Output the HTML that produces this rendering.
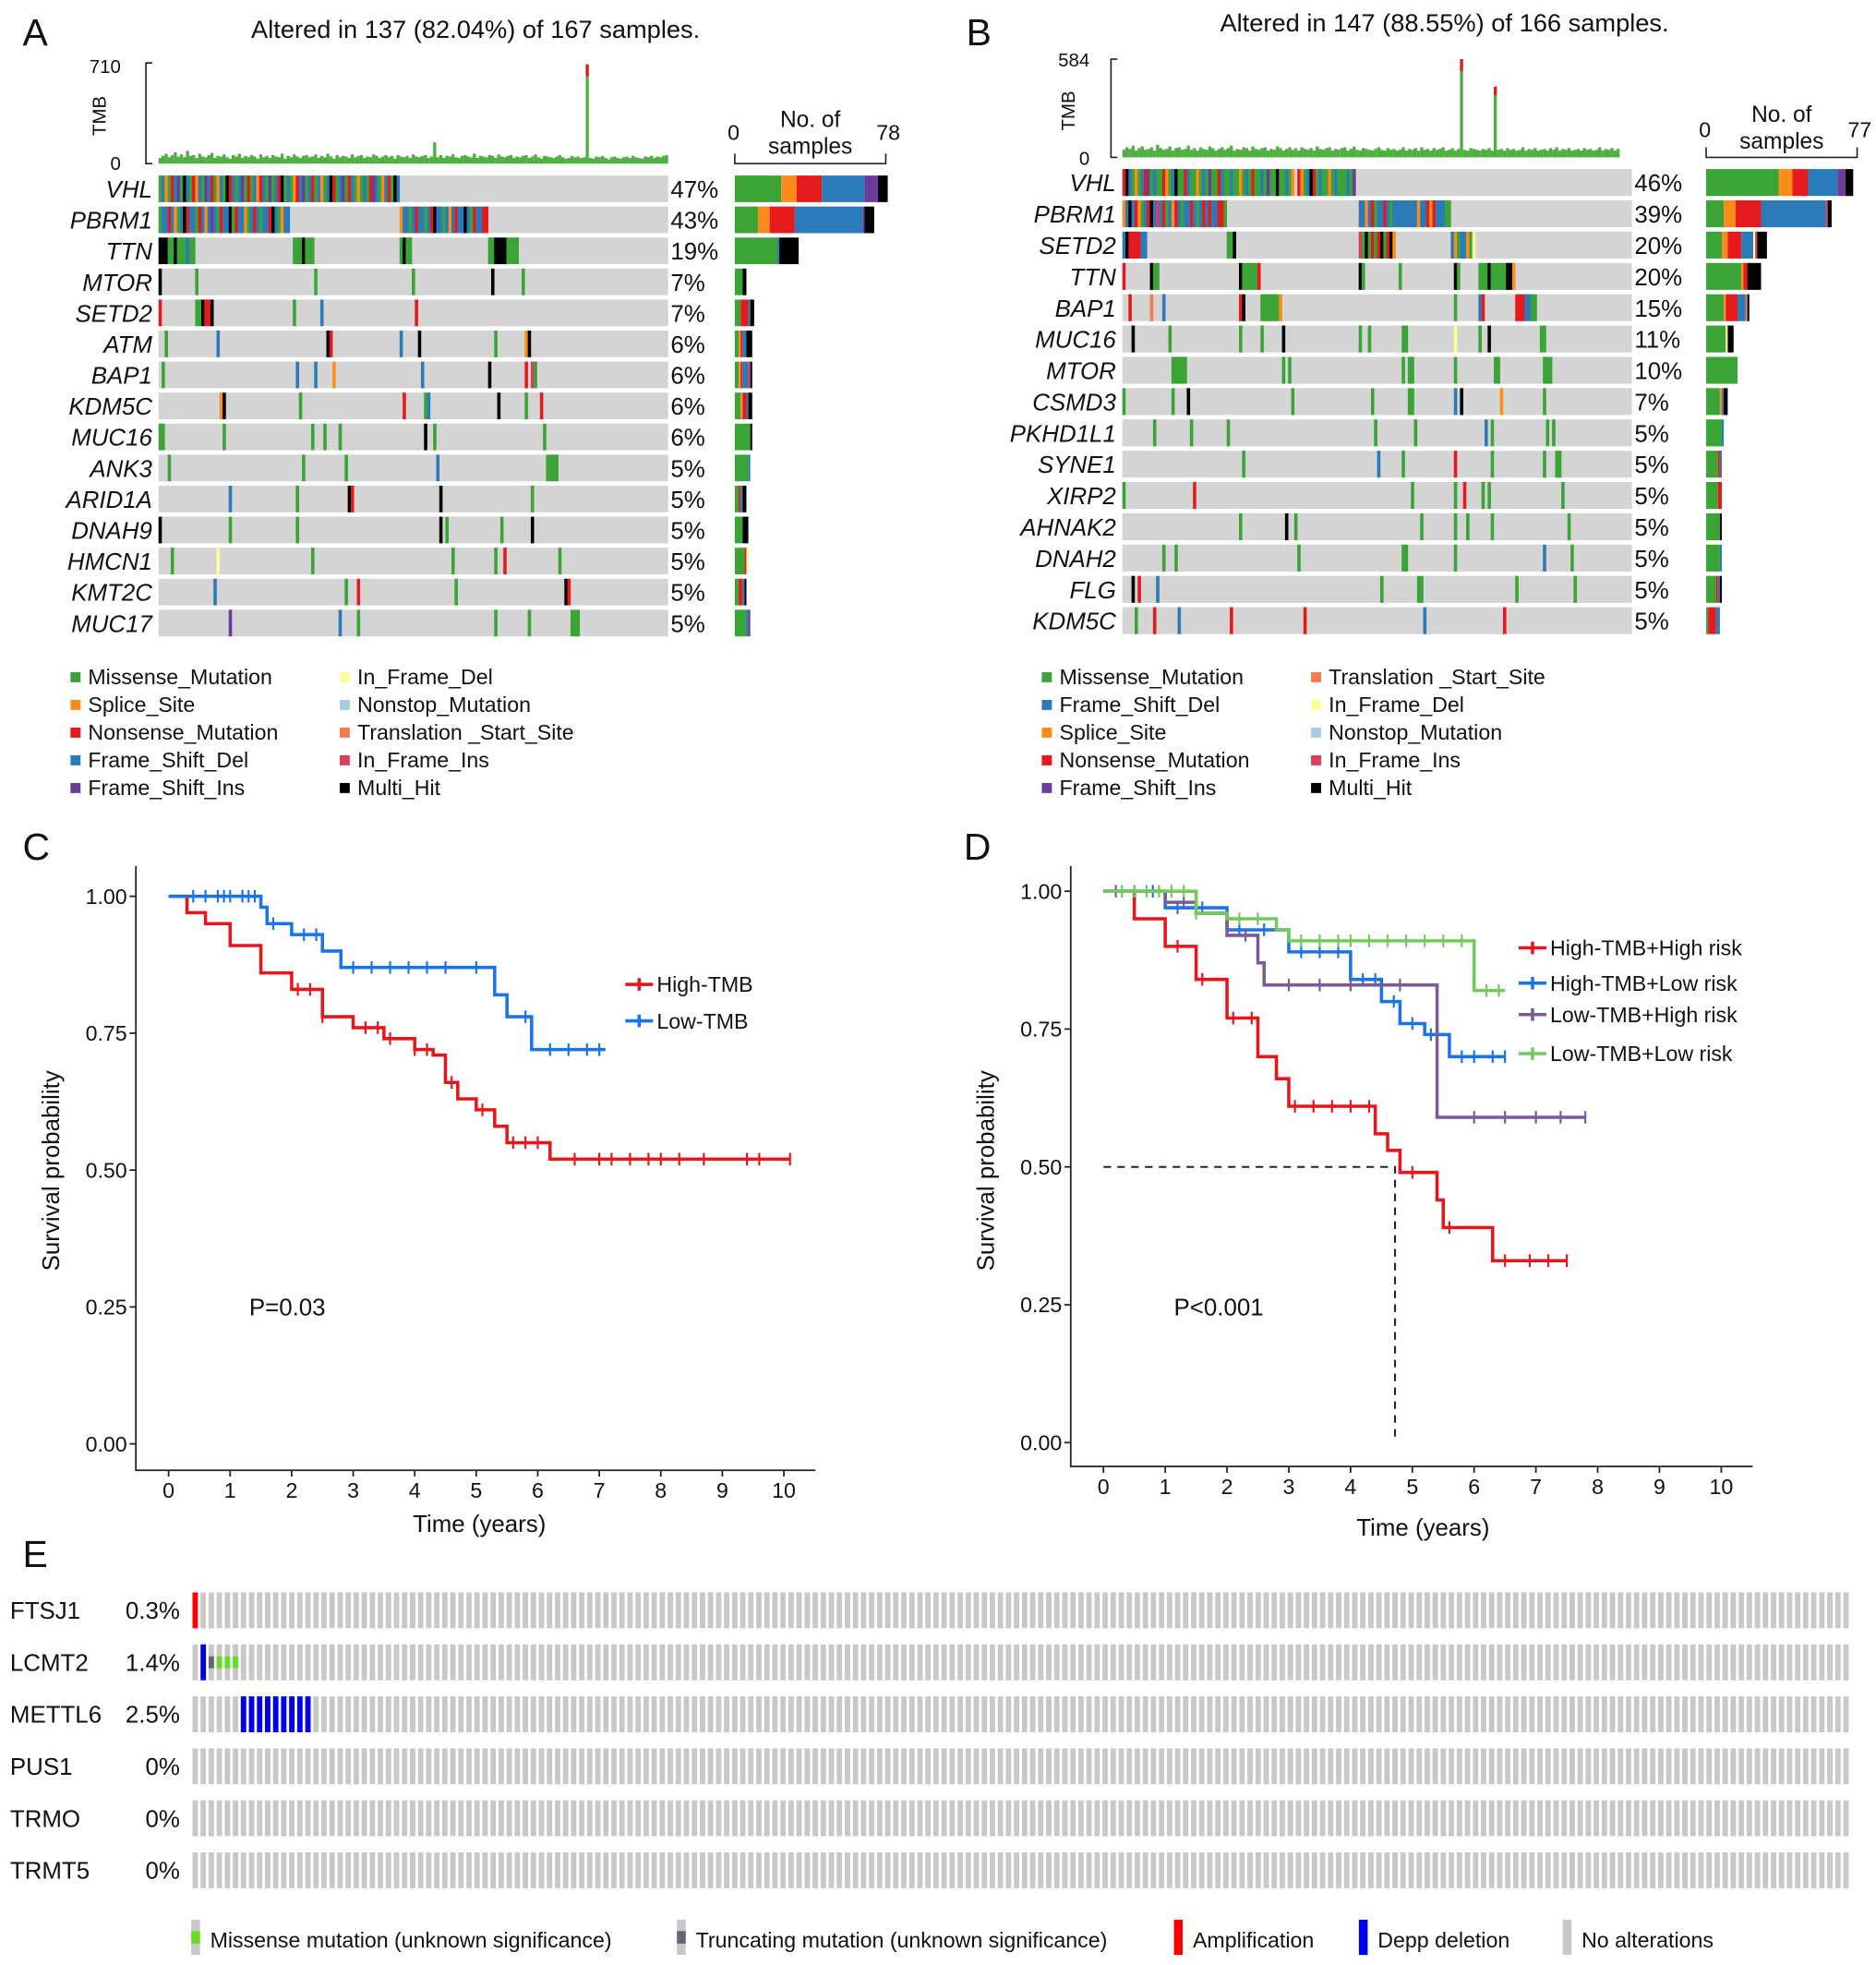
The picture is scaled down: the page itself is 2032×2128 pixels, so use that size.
<!DOCTYPE html>
<html><head><meta charset="utf-8"><style>
html,body{margin:0;padding:0;background:#fff}
svg{display:block}
text{font-family:"Liberation Sans",sans-serif;fill:#111}
.g{font-style:italic;font-size:19px;text-anchor:end}
.p{font-size:19px}
.lg{font-size:17px}
.tk{font-size:17px}
.pl{font-size:30px}
</style></head><body>
<svg id="fig" width="2032" height="2128" viewBox="0 0 1491 1561" preserveAspectRatio="none" xmlns="http://www.w3.org/2000/svg">
<g id="A">
<text class="pl" x="18" y="36">A</text>
<text x="378" y="30" font-size="20" text-anchor="middle">Altered in 137 (82.04%) of 167 samples.</text>
<text x="96" y="58" font-size="15" text-anchor="end">710</text>
<text x="96" y="135" font-size="15" text-anchor="end">0</text>
<text transform="translate(84,92) rotate(-90)" font-size="15" text-anchor="middle">TMB</text>
<text x="583" y="111" font-size="17" text-anchor="middle">0</text>
<text x="706" y="111" font-size="17" text-anchor="middle">78</text>
<text x="644" y="101" font-size="18" text-anchor="middle">No. of</text>
<text x="644" y="122" font-size="18" text-anchor="middle">samples</text>
</g>
<g id="B">
<text class="pl" x="768" y="36">B</text>
<text x="1148" y="25" font-size="20" text-anchor="middle">Altered in 147 (88.55%) of 166 samples.</text>
<text x="866" y="53" font-size="15" text-anchor="end">584</text>
<text x="866" y="131" font-size="15" text-anchor="end">0</text>
<text transform="translate(854,88) rotate(-90)" font-size="15" text-anchor="middle">TMB</text>
<text x="1355" y="109" font-size="17" text-anchor="middle">0</text>
<text x="1478" y="109" font-size="17" text-anchor="middle">77</text>
<text x="1416" y="97" font-size="18" text-anchor="middle">No. of</text>
<text x="1416" y="118" font-size="18" text-anchor="middle">samples</text>
</g>
<g id="legA"></g>
<g id="legB"></g>
<g id="C">
<text class="pl" x="18" y="683">C</text>
<text transform="translate(47,930) rotate(-90)" font-size="19" text-anchor="middle">Survival probability</text>
<text x="381" y="1217" font-size="19" text-anchor="middle">Time (years)</text>
<text x="198" y="1045" font-size="19">P=0.03</text>
</g>
<g id="D">
<text class="pl" x="766" y="683">D</text>
<text transform="translate(790,930) rotate(-90)" font-size="19" text-anchor="middle">Survival probability</text>
<text x="1131" y="1220" font-size="19" text-anchor="middle">Time (years)</text>
<text x="933" y="1045" font-size="19">P&lt;0.001</text>
</g>
<g id="E">
<text class="pl" x="18" y="1245">E</text>
</g>
</svg>
<script>
// ---------- oncoprint data ----------
const colA = {M:"#3aa436",S:"#ff8c1a",N:"#e41a1c",F:"#2b7bba",I:"#6a3d9a",D:"#ffff99",O:"#a6cee3",T:"#f47a4f",R:"#d6405e",H:"#000000"};
const genesA = ["VHL","PBRM1","TTN","MTOR","SETD2","ATM","BAP1","KDM5C","MUC16","ANK3","ARID1A","DNAH9","HMCN1","KMT2C","MUC17"];
const pctA = ["47%","43%","19%","7%","7%","6%","6%","6%","6%","5%","5%","5%","5%","5%","5%"];
const mutA = [
 [[0,"MFSMNFIMHFMNSFMIFNMSFMHNFMFIMNMFSNFMIMFNHMFMSNFIMFNMFSMFHNMFIMNFMSMFMNIFMSFNMHF"]],
 [[0,"MFFNFSMFHNFFMNFSFIFMNFFHMNFFSMFNFMFFNHFMSFF"],[79,"SFFMFNFFMFNHFFMFSFNFFHFMNFFNN"]],
 [[0,"HHHMMHMMMFMM"],[44,"MMMHMMM"],[79,"MHMM"],[108,"MMHHHHMMMM"]],
 [[0,"H"],[12,"M"],[51,"M"],[83,"M"],[109,"H"],[119,"M"]],
 [[0,"N"],[12,"M"],[13,"MHNNH"],[44,"M"],[53,"F"],[84,"N"]],
 [[2,"M"],[19,"F"],[55,"HN"],[79,"F"],[85,"H"],[110,"M"],[120,"SH"]],
 [[1,"M"],[45,"F"],[51,"F"],[57,"S"],[86,"F"],[108,"H"],[120,"N"],[122,"RM"]],
 [[20,"SH"],[46,"M"],[80,"N"],[87,"MF"],[111,"H"],[120,"M"],[125,"N"]],
 [[0,"MM"],[21,"M"],[50,"M"],[54,"M"],[59,"M"],[87,"H"],[90,"M"],[126,"M"]],
 [[3,"M"],[47,"M"],[61,"M"],[91,"F"],[127,"MMMM"]],
 [[23,"F"],[45,"M"],[62,"HN"],[92,"H"],[122,"M"]],
 [[0,"H"],[23,"M"],[45,"M"],[92,"H"],[94,"M"],[112,"M"],[122,"H"]],
 [[4,"M"],[19,"D"],[50,"M"],[96,"M"],[110,"M"],[113,"N"],[131,"M"]],
 [[18,"F"],[61,"M"],[65,"N"],[97,"M"],[133,"HN"]],
 [[23,"I"],[59,"F"],[65,"M"],[110,"M"],[121,"M"],[135,"MMM"]]
];
const tmbA = [40,55,70,45,60,80,50,65,45,90,55,60,40,70,50,45,60,75,40,55,50,65,45,35,60,50,70,40,55,45,60,50,35,65,45,55,40,60,50,45,70,35,55,45,65,50,40,55,60,45,50,65,40,55,45,70,50,35,60,45,55,50,40,65,45,55,60,40,50,45,65,55,40,50,60,45,55,35,60,50,45,55,40,65,50,45,55,60,40,50,150,45,60,40,55,50,65,45,40,55,60,50,45,70,40,55,50,45,60,55,40,65,50,45,55,60,40,50,45,55,60,40,50,65,45,35,55,50,45,40,50,60,45,35,40,55,45,50,40,45,700,40,35,50,45,55,40,30,45,50,40,35,45,50,40,55,45,40,35,50,45,55,40,50,45,55,60];
const genesB = ["VHL","PBRM1","SETD2","TTN","BAP1","MUC16","MTOR","CSMD3","PKHD1L1","SYNE1","XIRP2","AHNAK2","DNAH2","FLG","KDM5C"];
const pctB = ["46%","39%","20%","20%","15%","11%","10%","7%","5%","5%","5%","5%","5%","5%","5%"];
const mutB = [
 [[0,"NHFMSMFNIMFMMNSMFHMMNFMMSMFMIMMNFMMFMMSMFMNMMFMIMMHMMFMS"],[57,"NSMFHNMFMMSMFMMMFMI"]],
 [[0,"SFHFNSMFNHFRFNMFSNFMFFNFMFNFNFFNNM"],[77,"FFSFNMFFNFMFFFFFFFFSFFNSNFFFMM"]],
 [[0,"FHNNNNFF"],[34,"MMH"],[77,"RMHMNMNHMNHS"],[107,"FSMFFSMD"]],
 [[0,"N"],[9,"HMM"],[38,"HMMMMMN"],[77,"HM"],[90,"M"],[108,"HM"],[116,"MMMHMMMMMHHS"]],
 [[2,"N"],[9,"T"],[13,"F"],[38,"NH"],[45,"MMMMMMS"],[108,"M"],[116,"FN"],[128,"NNNFFMM"]],
 [[3,"H"],[15,"M"],[38,"M"],[45,"M"],[52,"H"],[77,"M"],[80,"M"],[91,"MM"],[108,"D"],[116,"M"],[119,"H"],[136,"MM"]],
 [[16,"MMMMM"],[52,"M"],[54,"M"],[91,"M"],[93,"MM"],[108,"M"],[121,"MM"],[137,"MMM"]],
 [[0,"M"],[16,"M"],[21,"H"],[55,"M"],[81,"M"],[93,"MM"],[108,"F"],[110,"H"],[123,"S"],[137,"M"]],
 [[10,"M"],[22,"M"],[34,"M"],[82,"M"],[95,"M"],[118,"F"],[120,"M"],[138,"M"],[140,"M"]],
 [[39,"M"],[83,"F"],[91,"M"],[108,"N"],[120,"M"],[137,"M"],[141,"MM"]],
 [[0,"M"],[23,"N"],[94,"M"],[108,"M"],[111,"N"],[117,"M"],[119,"M"],[143,"M"]],
 [[38,"M"],[53,"H"],[56,"M"],[97,"M"],[108,"M"],[112,"M"],[120,"M"],[145,"M"]],
 [[13,"M"],[17,"M"],[57,"M"],[91,"MM"],[108,"M"],[137,"F"],[146,"M"]],
 [[3,"H"],[5,"N"],[11,"F"],[84,"M"],[96,"MM"],[128,"M"],[147,"M"]],
 [[4,"M"],[10,"N"],[18,"F"],[35,"N"],[59,"N"],[98,"F"],[124,"N"]]
];
const tmbB = [45,60,50,70,40,55,65,45,50,60,40,75,55,45,50,65,40,55,60,45,50,70,45,55,40,60,50,45,65,55,40,50,60,45,55,70,40,50,45,60,55,40,65,50,45,55,60,40,50,45,65,55,40,50,60,45,55,40,60,50,45,55,40,65,50,45,55,60,40,50,45,55,60,40,50,65,45,40,55,50,45,40,50,60,45,40,55,45,50,40,45,60,40,50,45,55,40,60,45,50,40,55,45,50,60,40,45,55,40,50,584,45,40,55,50,45,40,50,45,55,40,420,45,50,40,55,45,50,40,45,60,40,50,45,55,40,45,50,40,55,45,60,40,50,45,55,40,45,50,40,55,45,50,40,45,60,40,50,45,55,40,50];
const legendTypesA = ["M","S","N","F","I","D","O","T","R","H"];
const legendTypesB = ["M","F","S","N","I","T","D","O","R","H"];
const legendNames = {M:"Missense_Mutation",S:"Splice_Site",N:"Nonsense_Mutation",F:"Frame_Shift_Del",I:"Frame_Shift_Ins",D:"In_Frame_Del",O:"Nonstop_Mutation",T:"Translation _Start_Site",R:"In_Frame_Ins",H:"Multi_Hit"};

// ---------- KM data ----------
const cHighT=[0,0.3,0.6,1,1.5,2,2.5,3,3.5,4,4.3,4.5,4.7,5,5.3,5.5,6.2,10.1];
const cHighS=[1,0.97,0.95,0.91,0.86,0.83,0.78,0.76,0.74,0.72,0.71,0.66,0.63,0.61,0.58,0.55,0.52,0.52];
const cHighCens=[2.1,2.3,2.5,3.2,3.4,3.6,4.0,4.2,4.6,5.1,5.6,5.8,6.0,6.6,7.0,7.2,7.5,7.8,8.0,8.3,8.7,9.4,9.6,10.1];
const cLowT=[0,1.5,1.6,2,2.5,2.8,5.2,5.3,5.5,5.9,7.1];
const cLowS=[1,0.98,0.95,0.93,0.90,0.87,0.87,0.82,0.78,0.72,0.72];
const cLowCens=[0.4,0.6,0.8,0.9,1.0,1.2,1.3,1.4,1.7,2.2,2.4,3.0,3.3,3.6,3.9,4.2,4.5,5.0,5.8,6.2,6.5,6.8,7.0];
const dHHT=[0,0.5,1,1.5,2,2.5,2.8,3,4.2,4.4,4.6,4.8,5.2,5.4,5.5,6.2,6.3,7.5];
const dHHS=[1,0.95,0.90,0.84,0.77,0.70,0.66,0.61,0.61,0.56,0.53,0.49,0.49,0.44,0.39,0.39,0.33,0.33];
const dHHCens=[1.2,1.6,2.1,2.4,3.1,3.4,3.7,4.0,4.3,5.0,5.6,6.5,6.9,7.2,7.5];
const dHLT=[0,1,2,3,4,4.5,4.8,5.2,5.6,6.5];
const dHLS=[1,0.97,0.93,0.89,0.84,0.80,0.76,0.74,0.70,0.70];
const dHLCens=[0.5,0.8,1.2,1.6,2.2,2.6,3.2,3.5,3.8,4.2,4.4,4.7,5.0,5.3,5.8,6.0,6.3,6.5];
const dLHT=[0,1,1.5,2,2.5,2.6,5.2,5.4,7.8];
const dLHS=[1,0.98,0.96,0.92,0.87,0.83,0.83,0.59,0.59];
const dLHCens=[0.2,1.3,2.3,3.0,3.5,4.0,4.8,6.0,6.5,7.0,7.4,7.8];
const dLLT=[0,1,1.5,2,2.8,3,5.9,6.0,6.5];
const dLLS=[1,1.0,0.96,0.95,0.93,0.91,0.91,0.82,0.82];
const dLLCens=[0.3,0.5,0.7,0.9,1.1,1.3,1.5,2.2,2.5,3.2,3.5,3.8,4.0,4.3,4.6,4.9,5.2,5.5,5.8,6.2,6.4];
const xTicks=[0,1,2,3,4,5,6,7,8,9,10];
const yTicks=[0,0.25,0.5,0.75,1.0];
const yTickLabels=["0.00","0.25","0.50","0.75","1.00"];
const medianD=[4.72,0.5];

// ---------- panel E data ----------
const genesE=["FTSJ1","LCMT2","METTL6","PUS1","TRMO","TRMT5"];
const pctE=["0.3%","1.4%","2.5%","0%","0%","0%"];
const nE=206;
const altE=[[[0,"A"]],[[1,"L"],[2,"K"],[3,"G"],[4,"G"],[5,"G"]],[[6,"L"],[7,"L"],[8,"L"],[9,"L"],[10,"L"],[11,"L"],[12,"L"],[13,"L"],[14,"L"]],[],[],[]];

// ---------- drawing ----------
const NS="http://www.w3.org/2000/svg";
const svg=document.getElementById('fig');
function mk(tag,attrs,parent){const e=document.createElementNS(NS,tag);for(const k in attrs)e.setAttribute(k,attrs[k]);(parent||svg).appendChild(e);return e;}

function onco(gid,genes,pcts,muts,tmb,nS,x0,w,y0,pitch,tmbTop,tmbBase,tmbMax,barX,barMax,axX){
  const g=document.getElementById(gid);
  const sw=w/nS;
  const ax=mk('path',{d:`M${axX+5},${tmbTop}H${axX}V${tmbBase}H${axX+5}`,stroke:'#222',fill:'none','stroke-width':1.2},g);
  
  
  tmb.forEach((v,i)=>{
    const h=v/tmbMax*(tmbBase-tmbTop);
    const r=mk('rect',{x:x0+i*sw,y:tmbBase-h,width:sw,height:h,fill:'#4caf3e'},g);
    
    
    if(v>300){const r2=mk('rect',{x:x0+i*sw,y:tmbBase-h,width:sw,height:h*0.12,fill:'#e41a1c'},g);
      
      }
  });
  const ca=mk('path',{d:`M${barX},${tmbBase-8}V${tmbBase}H${barX+120}V${tmbBase-8}`,stroke:'#222',fill:'none','stroke-width':1.2},g);
  
  
  genes.forEach((gn,r)=>{
    const cy=y0+r*pitch, h=pitch-3.5;
    const bg=mk('rect',{x:x0,y:cy-h/2,width:w,height:h,fill:'#d4d4d4'},g);
    
    
    const cnt={};
    muts[r].forEach(([s,types])=>{
      for(let k=0;k<types.length;k++){
        const t=types[k];cnt[t]=(cnt[t]||0)+1;
        const c=mk('rect',{x:x0+(s+k)*sw,y:cy-h/2,width:sw+0.2,height:h,fill:colA[t]},g);
        
        
      }
    });
    const lt=mk('text',{x:x0-5,y:cy+7,class:'g'},g);lt.textContent=gn;
    
    
    const pt=mk('text',{x:x0+w+2,y:cy+7,class:'p'},g);pt.textContent=pcts[r];
    
    
    let bx=barX;
    ["M","S","N","F","I","D","O","T","R","H"].forEach(t=>{
      if(!cnt[t])return;
      const bw=cnt[t]/barMax*120;
      const b=mk('rect',{x:bx,y:cy-h/2,width:bw,height:h,fill:colA[t]},g);
      
      
      bx+=bw;
    });
  });
}
onco('A',genesA,pctA,mutA,tmbA,167,126,405,150,24.64,50,130,710,584,78,116);
onco('B',genesB,pctB,mutB,tmbB,166,892,405,145,24.86,47,125,584,1356,77,883);

function legend(gid,types,x1,x2,y0,dy){
  const g=document.getElementById(gid);
  types.forEach((t,i)=>{
    const col=i<5?0:1, row=i%5;
    const x=col?x2:x1, y=y0+row*dy;
    const s=mk('rect',{x:x,y:y-10,width:8,height:8,fill:colA[t]},g);
    
    
    const tx=mk('text',{x:x+14,y:y-0.5,class:'lg'},g);tx.textContent=legendNames[t];
    
    
  });
}
legend('legA',legendTypesA,56,270,544,22);
legend('legB',legendTypesB,828,1042,544,22);

function km(gid,x0,x1,yTop,yBot,tx0,tx10,sy1,sy0,series,legendX,legendYs,labels){
  const g=document.getElementById(gid);
  const X=t=>tx0+t*(tx10-tx0)/10, Y=s=>sy0-s*(sy0-sy1);
  const a=mk('path',{d:`M${x0},${yTop}V${yBot}H${x1}`,stroke:'#222',fill:'none','stroke-width':1.3},g);
  
  
  xTicks.forEach(t=>{
    const l=mk('line',{x1:X(t),x2:X(t),y1:yBot,y2:yBot+5,stroke:'#222','stroke-width':1.3},g);
    
    
    const tx=mk('text',{x:X(t),y:yBot+22,class:'tk','text-anchor':'middle'},g);tx.textContent=t;
    
    
  });
  yTicks.forEach((v,i)=>{
    const l=mk('line',{x1:x0-5,x2:x0,y1:Y(v),y2:Y(v),stroke:'#222','stroke-width':1.3},g);
    
    
    const tx=mk('text',{x:x0-7,y:Y(v)+6,class:'tk','text-anchor':'end'},g);tx.textContent=yTickLabels[i];
    
    
  });
  series.forEach(([T,S,C,col,name],si)=>{
    let d=`M${X(T[0])},${Y(S[0])}`;
    for(let i=1;i<T.length;i++){d+=`H${X(T[i])}V${Y(S[i])}`;}
    const p=mk('path',{d:d,stroke:col,fill:'none','stroke-width':2.6},g);
    
    
    const at=t=>{let s=S[0];for(let i=0;i<T.length;i++)if(T[i]<=t)s=S[i];return s;};
    let cd='';C.forEach(t=>{const y=Y(at(t));cd+=`M${X(t)},${y-5}V${y+5}`;});
    const cp=mk('path',{d:cd,stroke:col,'stroke-width':1.6,fill:'none'},g);
    
    
    const ly=legendYs[si];
    const ll=mk('path',{d:`M${legendX},${ly}H${legendX+22}M${legendX+11},${ly-5}V${ly+5}`,stroke:col,'stroke-width':2.6,fill:'none'},g);
    
    
    const lt=mk('text',{x:legendX+25,y:ly+6,class:'lg'},g);lt.textContent=labels[si];
    
    
  });
  return {X,Y,g};
}
km('C',108,648,688,1168,134,623,712,1147,[
  [cHighT,cHighS,cHighCens,'#e8161b','high-tmb'],
  [cLowT,cLowS,cLowCens,'#1a73e8','low-tmb']],497,[782,811],["High-TMB","Low-TMB"]);
const kd=km('D',851,1393,688,1165,877,1368,708,1146,[
  [dHHT,dHHS,dHHCens,'#e8161b','high-tmb-high-risk'],
  [dHLT,dHLS,dHLCens,'#1a73e8','high-tmb-low-risk'],
  [dLHT,dLHS,dLHCens,'#7a5a9a','low-tmb-high-risk'],
  [dLLT,dLLS,dLLCens,'#72c95e','low-tmb-low-risk']],1207,[753,781,806,837],["High-TMB+High risk","High-TMB+Low risk","Low-TMB+High risk","Low-TMB+Low risk"]);
const md=mk('path',{d:`M${kd.X(0)},${kd.Y(medianD[1])}H${kd.X(medianD[0])}V${kd.Y(0)}`,stroke:'#222','stroke-dasharray':'6,5','stroke-width':1.5,fill:'none'},kd.g);



// panel E
(function(){
  const g=document.getElementById('E');
  const x0=153,pitch=6.4,bw=4.3,rowTop=1265,rowP=41.3,rh=28.5;
  const colE={A:'#ff0000',L:'#0000ee',G:'#66dd22',K:'#666677'};
  genesE.forEach((gn,r)=>{
    const yt=rowTop+r*rowP;
    const lt=mk('text',{x:8,y:yt+21,'font-size':19},g);lt.textContent=gn;
    
    
    const pt=mk('text',{x:143,y:yt+21,'font-size':19,'text-anchor':'end'},g);pt.textContent=pctE[r];
    
    
    const alt={};altE[r].forEach(([i,t])=>alt[i]=t);
    for(let i=0;i<nE;i++){
      const t=alt[i];
      const x=x0+i*pitch;
      const full=(t==='A'||t==='L');
      const b=mk('rect',{x:x,y:yt,width:bw,height:rh,fill:full?colE[t]:'#c8c8c8'},g);
      
      
      if(t==='G'||t==='K'){
        const m=mk('rect',{x:x,y:yt+rh/3,width:bw,height:rh/3,fill:colE[t]},g);
        
        
      }
    }
  });
  const items=[[152,'#c8c8c8','#66dd22',"Missense mutation (unknown significance)"],[538,'#c8c8c8','#666677',"Truncating mutation (unknown significance)"],[933,'#ff0000',null,"Amplification"],[1080,'#0000ee',null,"Depp deletion"],[1242,'#c8c8c8',null,"No alterations"]];
  items.forEach(([x,c1,c2,txt])=>{
    const r=mk('rect',{x:x,y:1525,width:7,height:28,fill:c1},g);
    
    
    if(c2){const r2=mk('rect',{x:x,y:1534,width:7,height:10,fill:c2},g);
      
      }
    const t=mk('text',{x:x+15,y:1547,class:'lg'},g);t.textContent=txt;
    
    
  });
})();
</script>
</body></html>
